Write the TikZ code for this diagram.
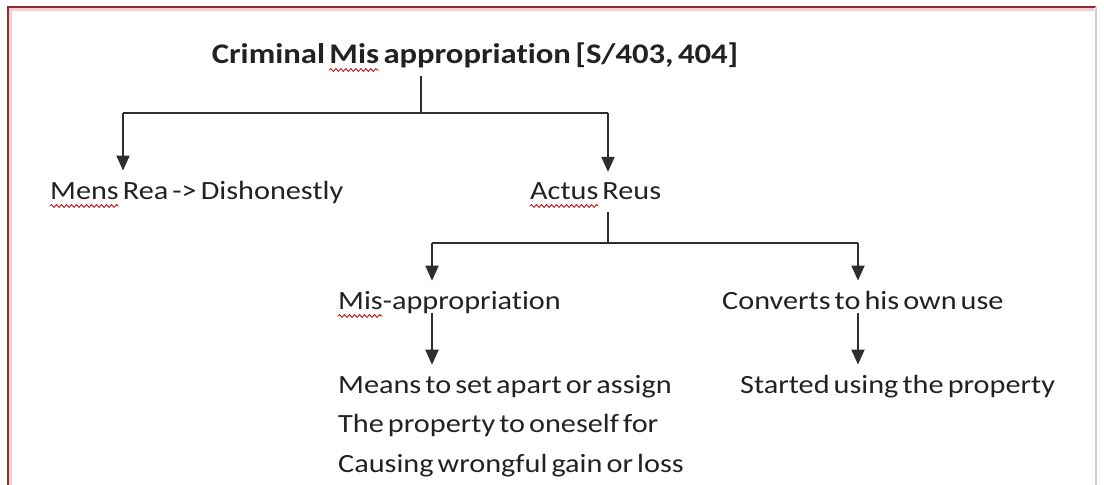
\documentclass[tikz,border=0pt]{standalone}
\usepackage{fontspec}
\setmainfont{Carlito}[FakeStretch=1.15,WordSpace=0.6,Ligatures=NoCommon]
\usetikzlibrary{arrows.meta,calc,decorations.pathmorphing}
\definecolor{ink}{HTML}{222222}
\definecolor{wire}{HTML}{2E2E2E}
\definecolor{frame}{HTML}{8A3030}
\definecolor{framesoft}{HTML}{F6D0D0}
\newcommand\bodyfont{\fontsize{26.3}{39.5}\selectfont}
\newcommand\titlefont{\fontsize{28.4}{34}\selectfont\bfseries}
\newlength\wMens \newlength\wActus \newlength\wMis \newlength\wTMis \newlength\wCrim
\tikzset{
  lbl/.style={inner xsep=0pt, inner ysep=10pt, anchor=base west, text=ink, font=\bodyfont},
  ttl/.style={inner sep=0pt, anchor=base, text=ink, font=\titlefont},
  conn/.style={draw=wire, line width=1.9pt},
  arr/.style={conn, -{Triangle[width=13pt,length=15pt]}},
  squig/.style={draw=red!75!black, line width=0.8pt, decorate, decoration={snake, segment length=5pt, amplitude=1.4pt}},
}
\begin{document}
\settowidth\wMens{\bodyfont Mens}%
\settowidth\wActus{\bodyfont Actus}%
\settowidth\wMis{\bodyfont Mis}%
\settowidth\wTMis{\titlefont Mis}%
\settowidth\wCrim{\titlefont Criminal\ }%
\begin{tikzpicture}[x=1pt,y=-1pt]
\useasboundingbox (0,0) rectangle (1104,485);
\fill[white] (0,0) rectangle (1104,485);
% page frame
\draw[framesoft, line width=2.5pt] (10.5,485) -- (10.5,9.5) -- (1093.5,9.5);
\draw[frame, line width=1.6pt] (8,485) -- (8,7) -- (1096,7);
\draw[frame!25, line width=1.5pt] (1096,7) -- (1096,485);

% texts
\node[ttl] (title) at (475,63) {Criminal Mis appropriation [S/403, 404]};
\node[lbl] (mens) at (50,199) {Mens Rea -> Dishonestly};
\node[lbl] (actus) at (530,199) {Actus Reus};
\node[lbl] (misapp) at (338,309) {Mis-appropriation};
\node[lbl] (conv) at (722,309) {Converts to his own use};
\node[lbl, align=left] (means) at (338,472) {Means to set apart or assign\\The property to oneself for\\Causing wrongful gain or loss};
\node[lbl] (start) at (740,393) {Started using the property};

% spelling marks
\draw[squig] ($(title.base west)+(\wCrim,7)$) -- ++(\wTMis,0);
\draw[squig] ($(mens.base west)+(0,7)$) -- ++(\wMens,0);
\draw[squig] ($(actus.base west)+(0,7)$) -- ++(\wActus,0);
\draw[squig] ($(misapp.base west)+(0,7)$) -- ++(\wMis,0);

% junction coordinates
\coordinate (j0) at (421,113);
\coordinate (jL) at (123,113);
\coordinate (jR) at (608,113);
\coordinate (k0) at (608,243);
\coordinate (kL) at (432,243);
\coordinate (kR) at (858,243);

% connectors
\draw[conn, shorten <=8pt] (title.south -| j0) -- (j0);
\draw[conn] (jL) -- (jR);
\draw[arr] (jL) -- (jL |- mens.north);
\draw[arr] (jR) -- (jR |- actus.north);
\draw[conn] ($(actus.base -| k0)+(0,13)$) -- (k0);
\draw[conn] (kL) -- (kR);
\draw[arr] (kL) -- (kL |- misapp.north);
\draw[arr] (kR) -- (kR |- conv.north);
\draw[arr] ($(misapp.base -| kL)+(0,4)$) -- (kL |- means.north);
\draw[arr] ($(conv.base -| kR)+(0,4)$) -- (kR |- start.north);
\end{tikzpicture}
\end{document}
